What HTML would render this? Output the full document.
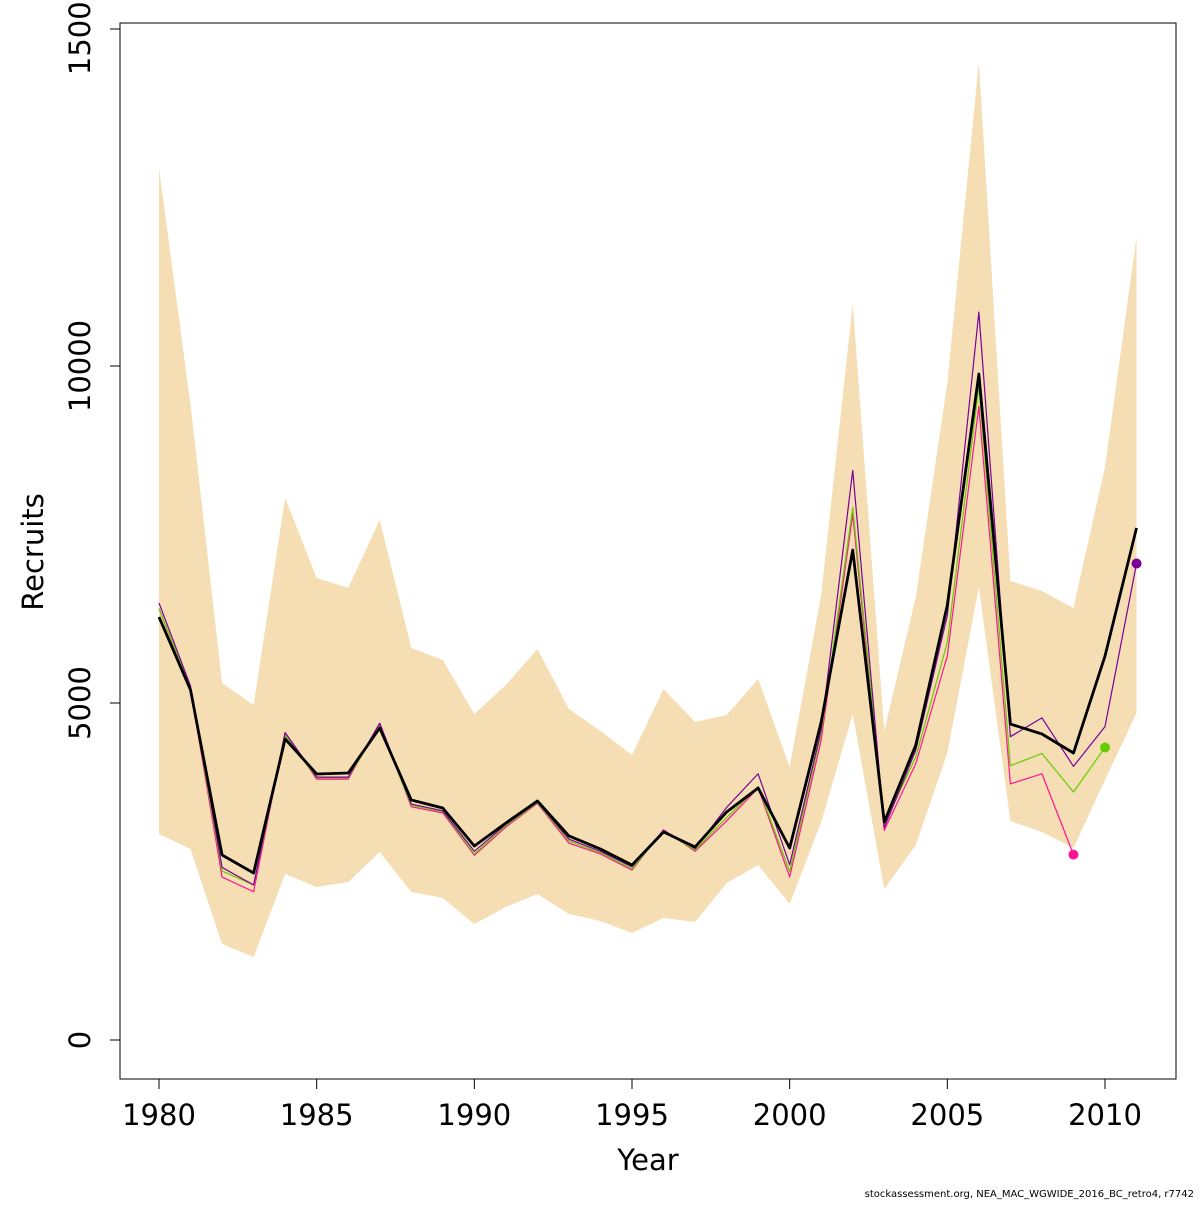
<!DOCTYPE html>
<html><head><meta charset="utf-8"><style>
body{margin:0;background:#fff;}
svg text{font-family:"DejaVu Sans","Liberation Sans",sans-serif;fill:#000;}
</style></head><body>
<svg id="chart" width="1200" height="1200" xmlns="http://www.w3.org/2000/svg">
<g id="band"></g>
<g id="lines"></g>
<rect x="120" y="23" width="1056" height="1056" fill="none" stroke="#000" stroke-width="1"/>
<g id="axes"></g>
<text x="648" y="1170" font-size="29" text-anchor="middle">Year</text>
<text transform="translate(43,552) rotate(-90)" font-size="29" text-anchor="middle">Recruits</text>
<text x="1194" y="1197" font-size="10" text-anchor="end">stockassessment.org, NEA_MAC_WGWIDE_2016_BC_retro4, r7742</text>
</svg>
<script>
const years=[1980,1981,1982,1983,1984,1985,1986,1987,1988,1989,1990,1991,1992,1993,1994,1995,1996,1997,1998,1999,2000,2001,2002,2003,2004,2005,2006,2007,2008,2009,2010,2011];
const estimate=[6276,5193,2745,2478,4466,3947,3961,4629,3561,3442,2878,3220,3546,3027,2834,2596,3086,2864,3383,3739,2849,4718,7270,3235,4377,6454,9881,4688,4540,4258,5697,7597];
const upper=[12938,9421,5297,4970,8042,6855,6706,7715,5816,5638,4837,5267,5801,4911,4585,4229,5208,4718,4822,5356,4051,6602,10920,4585,6573,9748,14510,6810,6662,6409,8502,11914];
const lower=[3056,2834,1424,1231,2463,2270,2344,2789,2196,2107,1721,1973,2166,1870,1766,1588,1810,1751,2329,2596,2018,3235,4837,2240,2893,4258,6721,3249,3086,2849,3858,4852];
const retroPurple=[6484,5250,2560,2300,4560,3900,3900,4700,3500,3400,2800,3200,3530,2980,2800,2570,3110,2840,3450,3950,2600,4600,8450,3150,4300,6300,10800,4500,4780,4060,4650,7070];
const retroGreen=[6400,5220,2507,2300,4520,3890,3890,4660,3480,3390,2760,3180,3520,2950,2780,2540,3100,2820,3300,3760,2500,4550,7900,3200,4200,5900,9700,4070,4250,3680,4340];
const retroPink=[6400,5200,2418,2200,4560,3870,3870,4700,3460,3370,2740,3160,3510,2920,2760,2520,3120,2800,3250,3740,2420,4450,7800,3110,4100,5700,9400,3800,3950,2750];
const xTicks=[1980,1985,1990,1995,2000,2005,2010];
const yTicks=[0,5000,10000,15000];
const NS="http://www.w3.org/2000/svg";
function X(yr){return 159+(yr-1980)*(946/30);}
function Y(v){return 1040-v*(337/5000);}
function mk(tag,attrs,parent){const e=document.createElementNS(NS,tag);for(const k in attrs)e.setAttribute(k,attrs[k]);parent.appendChild(e);return e;}
const band=document.getElementById('band');
let pts=years.map((y,i)=>X(y)+','+Y(upper[i]));
for(let i=years.length-1;i>=0;i--)pts.push(X(years[i])+','+Y(lower[i]));
const poly=mk('polygon',{points:pts.join(' '),fill:'#f5deb3'},band);


const lines=document.getElementById('lines');
function series(vals,color,w,name){
  const p=mk('polyline',{points:vals.map((v,i)=>X(years[i])+','+Y(v)).join(' '),fill:'none',stroke:color,'stroke-width':w,'stroke-linejoin':'round'},lines);
  
  
}
series(retroPink,'#ff1493',1.2,'retro-pink-line');
series(retroGreen,'#66cc00',1.2,'retro-green-line');
series(retroPurple,'#7a0099',1.2,'retro-purple-line');
series(estimate,'#000',2.8,'estimate-line');
function dot(vals,color,name){
  const i=vals.length-1;
  const c=mk('circle',{cx:X(years[i]),cy:Y(vals[i]),r:5,fill:color},lines);
  
  
}
dot(retroPink,'#ff1493','retro-pink-endpoint');
dot(retroGreen,'#66cc00','retro-green-endpoint');
dot(retroPurple,'#7a0099','retro-purple-endpoint');
const axes=document.getElementById('axes');
const xl=mk('line',{x1:X(1980),x2:X(2010),y1:1079,y2:1079,stroke:'#000'},axes);
xTicks.forEach(t=>{
  const tk=mk('line',{x1:X(t),x2:X(t),y1:1079,y2:1089,stroke:'#000'},axes);
  
  
  const tx=mk('text',{x:X(t),y:1125,'font-size':29,'text-anchor':'middle'},axes);
  tx.textContent=t;
  
  
});
yTicks.forEach(t=>{
  const tk=mk('line',{x1:110,x2:120,y1:Y(t),y2:Y(t),stroke:'#000'},axes);
  
  
  const tx=mk('text',{transform:'translate(90,'+Y(t)+') rotate(-90)','font-size':29,'text-anchor':'middle'},axes);
  tx.textContent=t;
  
  
});
</script>
</body></html>
